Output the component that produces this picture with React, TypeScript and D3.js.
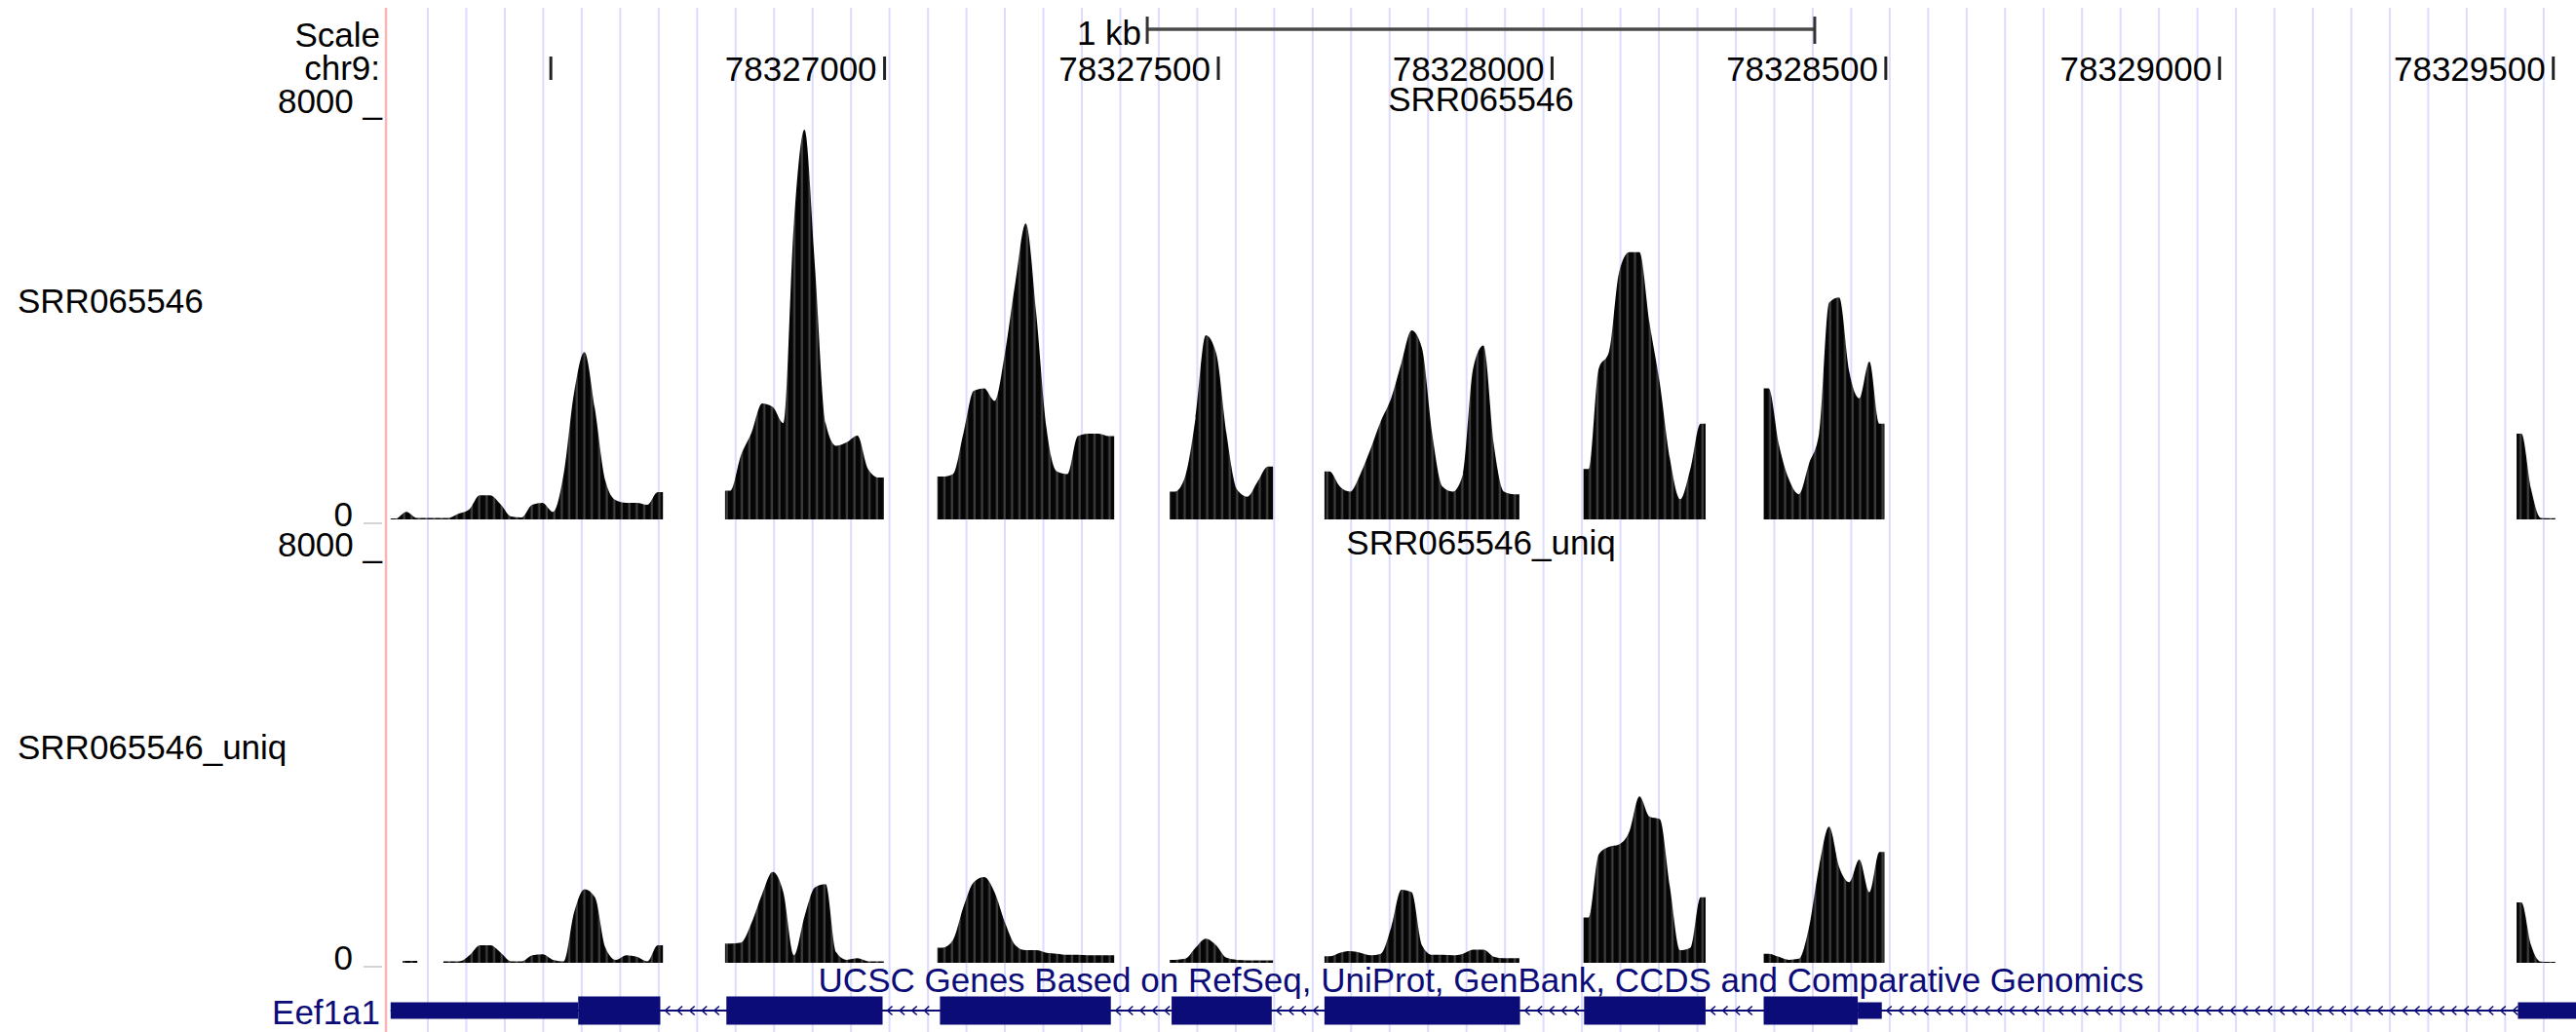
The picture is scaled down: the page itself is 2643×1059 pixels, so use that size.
import React from 'react';
import * as d3 from 'd3';

const WIDTH = 2643;
const HEIGHT = 1059;

// chr9 window shown (bp)
const viewStart = 78326253;
const viewEnd = 78329534;

const rulerTicks = [78326500, 78327000, 78327500, 78328000, 78328500, 78329000, 78329500];
const rulerLabels = ['', '78327000', '78327500', '78328000', '78328500', '78329000', '78329500'];

// SRR065546 coverage: one value per bin inside each covered block
const srrStarts = [78326260, 78326761, 78327079, 78327427, 78327659, 78328047, 78328317, 78329445];
const srrEnds = [78326668, 78326999, 78327344, 78327582, 78327951, 78328230, 78328498, 78329503];
const srrValues = [
  [20, 150, 30, 30, 30, 30, 115, 200, 480, 480, 300, 60, 40, 290, 330, 150, 880, 2500, 3320, 2200, 770, 380, 330, 330, 290, 540],
  [570, 1270, 1720, 2300, 2230, 1910, 5870, 7730, 4980, 1910, 1460, 1530, 1660, 1000, 830],
  [850, 900, 1700, 2550, 2600, 2350, 3300, 4700, 5870, 4100, 1800, 950, 900, 1650, 1700, 1700, 1650],
  [550, 850, 2000, 3650, 3300, 1700, 600, 450, 750, 1050],
  [950, 650, 550, 900, 1400, 1950, 2400, 3100, 3750, 3400, 1700, 650, 550, 900, 3000, 3450, 1500, 550, 500],
  [1000, 2990, 3320, 4900, 5300, 5300, 3890, 2700, 1200, 400, 1000, 1900],
  [2600, 1500, 800, 500, 1100, 1700, 4300, 4400, 2930, 2400, 3130, 1900],
  [1700, 600, 30, 25],
];

// SRR065546_uniq coverage
const uniqStarts = [78326278, 78326339, 78326761, 78327079, 78327427, 78327659, 78328047, 78328317, 78329445];
const uniqEnds = [78326300, 78326668, 78326999, 78327344, 78327582, 78327951, 78328230, 78328498, 78329503];
const uniqValues = [
  [40],
  [30, 30, 150, 350, 350, 200, 30, 30, 150, 170, 60, 30, 1000, 1460, 1300, 300, 60, 150, 120, 30, 350],
  [380, 400, 790, 1360, 1800, 1400, 150, 920, 1500, 1560, 210, 60, 90, 30, 30],
  [300, 450, 1100, 1600, 1700, 1400, 800, 350, 250, 250, 200, 180, 160, 160, 150, 150, 150],
  [60, 80, 300, 480, 350, 100, 60, 50, 50, 50],
  [130, 200, 230, 200, 150, 180, 700, 1450, 1400, 350, 160, 160, 150, 180, 260, 260, 120, 90, 90],
  [900, 2150, 2300, 2350, 2600, 3300, 2900, 2850, 1500, 250, 300, 1300],
  [180, 120, 60, 80, 700, 1900, 2700, 1900, 1600, 2050, 1400, 2200],
  [1200, 350, 25, 20],
];

// Eef1a1, minus strand
const exonStarts = [78326260, 78326763, 78327083, 78327430, 78327659, 78328048, 78328317, 78329447];
const exonEnds = [78326664, 78326997, 78327339, 78327580, 78327952, 78328230, 78328494, 78329600];
const cdsStart = 78326541;
const cdsEnd = 78328458;

const yMax = 8000;

const LEFT = 396;
const FONT = '"Liberation Sans", Arial, Helvetica, sans-serif';
const NAVY = '#0c0c78';

export default function App() {
  const x = d3.scaleLinear().domain([viewStart, viewEnd]).range([LEFT, WIDTH]);
  const grid = d3.range(439, WIDTH, 39.47);
  const mid = (LEFT + WIDTH) / 2;

  const tracks = [
    { title: 'SRR065546', starts: srrStarts, ends: srrEnds, values: srrValues, top: 119, bottom: 533, labelY: 321 },
    { title: 'SRR065546_uniq', starts: uniqStarts, ends: uniqEnds, values: uniqValues, top: 574, bottom: 988, labelY: 779 },
  ];

  const blockPath = (y, start, end, vals) => {
    const step = (end - start) / vals.length;
    const pts = [[start, vals[0]], ...vals.map((v, i) => [start + (i + 0.5) * step, v]), [end, vals[vals.length - 1]]];
    const area = d3.area()
      .x(d => x(d[0]))
      .y0(y(0))
      .y1(d => y(d[1]))
      .curve(d3.curveMonotoneX);
    return area(pts);
  };

  // scale bar 1 kb centred on the data area
  const kb = x(viewStart + 1000) - x(viewStart);
  const barL = mid - kb / 2;
  const barR = mid + kb / 2;

  // gene geometry
  const geneY = 1037;
  const thinH = 17;
  const thickH = 29;
  const exonRects = [];
  exonStarts.forEach((s, i) => {
    const e = exonEnds[i];
    const ts = Math.max(s, cdsStart);
    const te = Math.min(e, cdsEnd);
    if (ts < te) {
      if (s < ts) exonRects.push({ s, e: ts, h: thinH });
      exonRects.push({ s: ts, e: te, h: thickH });
      if (te < e) exonRects.push({ s: te, e, h: thinH });
    } else {
      exonRects.push({ s, e, h: thinH });
    }
  });
  const chevrons = [];
  for (let i = 0; i < exonStarts.length - 1; i++) {
    const a = x(exonEnds[i]) + 7;
    const b = x(exonStarts[i + 1]) - 3;
    d3.range(a, b, 12.6).forEach(p => chevrons.push(p));
  }

  return (
    <svg width={WIDTH} height={HEIGHT} style={{ position: 'absolute', left: 0, top: 0, background: '#fff' }} fontFamily={FONT} fontSize={35}>
      <defs>
        <pattern id="wig" patternUnits="userSpaceOnUse" width={7.7} height={20}>
          <rect width={7.7} height={20} fill="#3c3c3c" />
          <rect width={5.4} height={20} fill="#050505" />
        </pattern>
        <clipPath id="dataClip">
          <rect x={LEFT + 1} y={0} width={WIDTH - LEFT} height={HEIGHT} />
        </clipPath>
      </defs>
      <rect width={WIDTH} height={HEIGHT} fill="#fff" />

      {grid.map((g, i) => (
        <line key={i} x1={g} x2={g} y1={8} y2={HEIGHT} stroke="#dcdcff" strokeWidth={2} />
      ))}
      <line x1={LEFT} x2={LEFT} y1={8} y2={HEIGHT} stroke="#ffb4b4" strokeWidth={2.5} />

      {/* ruler */}
      <text x={390} y={48} textAnchor="end">Scale</text>
      <text x={390} y={82} textAnchor="end">chr9:</text>
      <text x={barL - 6} y={46} textAnchor="end">1 kb</text>
      <line x1={barL} x2={barR} y1={30} y2={30} stroke="#4a4a4a" strokeWidth={3.5} />
      <line x1={barL} x2={barL} y1={17} y2={45} stroke="#333" strokeWidth={3} />
      <line x1={barR} x2={barR} y1={17} y2={45} stroke="#333" strokeWidth={3} />
      {rulerTicks.map((t, i) => (
        <g key={t}>
          <line x1={x(t)} x2={x(t)} y1={58} y2={82} stroke="#222" strokeWidth={3} />
          {rulerLabels[i] && (
            <text x={x(t) - 8} y={83} textAnchor="end">{rulerLabels[i]}</text>
          )}
        </g>
      ))}

      {/* wiggle tracks */}
      {tracks.map(tr => {
        const y = d3.scaleLinear().domain([0, yMax]).range([tr.bottom, tr.top]);
        return (
          <g key={tr.title}>
            <text x={mid} y={tr.top - 5} textAnchor="middle">{tr.title}</text>
            <text x={392} y={tr.top - 3} textAnchor="end">{`${yMax} _`}</text>
            <text x={362} y={tr.bottom + 7} textAnchor="end">0</text>
            <line x1={373} x2={392} y1={tr.bottom + 4} y2={tr.bottom + 4} stroke="#d4d4d4" strokeWidth={2} />
            <text x={18} y={tr.labelY}>{tr.title}</text>
            <g clipPath="url(#dataClip)">
              {tr.starts.map((s, i) => (
                <path key={s} d={blockPath(y, s, tr.ends[i], tr.values[i])} fill="url(#wig)" />
              ))}
            </g>
          </g>
        );
      })}

      {/* gene track */}
      <text x={mid} y={1018} textAnchor="middle" fill={NAVY}>
        UCSC Genes Based on RefSeq, UniProt, GenBank, CCDS and Comparative Genomics
      </text>
      <text x={390} y={1051} textAnchor="end" fill={NAVY}>Eef1a1</text>
      <g clipPath="url(#dataClip)">
        <line x1={x(exonStarts[0])} x2={x(exonEnds[exonEnds.length - 1])} y1={geneY} y2={geneY} stroke={NAVY} strokeWidth={2} />
        {chevrons.map((p, i) => (
          <polyline key={i} points={`${p + 3},${geneY - 4.5} ${p - 2},${geneY} ${p + 3},${geneY + 4.5}`} fill="none" stroke={NAVY} strokeWidth={1.6} />
        ))}
        {exonRects.map((r, i) => (
          <rect key={i} x={x(r.s)} y={geneY - r.h / 2} width={x(r.e) - x(r.s)} height={r.h} fill={NAVY} />
        ))}
      </g>
    </svg>
  );
}
